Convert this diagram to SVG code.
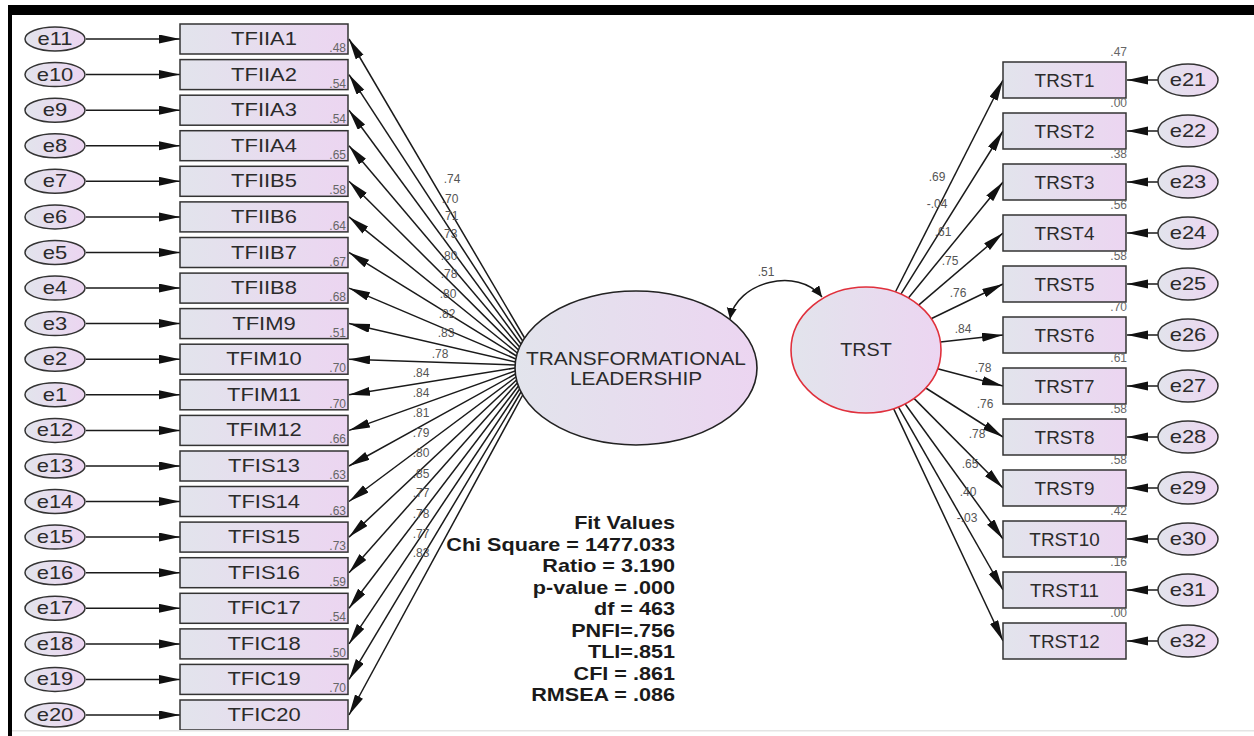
<svg xmlns="http://www.w3.org/2000/svg" width="1254" height="736" viewBox="0 0 1254 736">
<defs>
<style>
.bx{stroke:#333;stroke-width:1.5;fill:url(#g)}
.el{stroke:#333;stroke-width:1.5;fill:url(#g)}
.ln{stroke:#1a1a1a;stroke-width:1.5;fill:none}
.t{font-family:"Liberation Sans",Arial,sans-serif;font-size:18px;fill:#2b2b2b;text-anchor:middle}
.n{font-family:"Liberation Sans",Arial,sans-serif;font-size:12px;fill:#555;text-anchor:middle}
.r{font-family:"Liberation Sans",Arial,sans-serif;font-size:12px;fill:#666;text-anchor:end}
.f{font-family:"Liberation Sans",Arial,sans-serif;font-size:18px;font-weight:bold;fill:#1a1a1a;text-anchor:end}
</style>
<linearGradient id="g" x1="0" y1="0" x2="1" y2="0">
<stop offset="0" stop-color="#e2e4ec"/>
<stop offset="1" stop-color="#ecd5f1"/>
</linearGradient>
<marker id="ah" markerUnits="userSpaceOnUse" markerWidth="22" markerHeight="10" refX="21" refY="4.5" orient="auto"><path d="M0,0 L21,4.5 L0,9 Z" fill="#111"/></marker>
<marker id="as" markerUnits="userSpaceOnUse" markerWidth="12" markerHeight="11" refX="11" refY="5" orient="auto-start-reverse"><path d="M0,0 L11,5 L0,10 Z" fill="#111"/></marker>
</defs>
<rect width="1254" height="736" fill="#fff"/>

<g id="connectors">
<!-- left error arrows -->
<g class="ln" marker-end="url(#ah)">
<line x1="86" y1="39" x2="180" y2="39"/>
<line x1="86" y1="74.6" x2="180" y2="74.6"/>
<line x1="86" y1="110.2" x2="180" y2="110.2"/>
<line x1="86" y1="145.7" x2="180" y2="145.7"/>
<line x1="86" y1="181.3" x2="180" y2="181.3"/>
<line x1="86" y1="216.9" x2="180" y2="216.9"/>
<line x1="86" y1="252.5" x2="180" y2="252.5"/>
<line x1="86" y1="288.1" x2="180" y2="288.1"/>
<line x1="86" y1="323.6" x2="180" y2="323.6"/>
<line x1="86" y1="359.2" x2="180" y2="359.2"/>
<line x1="86" y1="394.8" x2="180" y2="394.8"/>
<line x1="86" y1="430.4" x2="180" y2="430.4"/>
<line x1="86" y1="466" x2="180" y2="466"/>
<line x1="86" y1="501.5" x2="180" y2="501.5"/>
<line x1="86" y1="537.1" x2="180" y2="537.1"/>
<line x1="86" y1="572.7" x2="180" y2="572.7"/>
<line x1="86" y1="608.3" x2="180" y2="608.3"/>
<line x1="86" y1="643.9" x2="180" y2="643.9"/>
<line x1="86" y1="679.4" x2="180" y2="679.4"/>
<line x1="86" y1="715" x2="180" y2="715"/>
</g>
<!-- left loadings -->
<g class="ln" marker-end="url(#ah)">
<line x1="524.6" y1="338" x2="349" y2="39"/>
<line x1="522.7" y1="341" x2="349" y2="74.6"/>
<line x1="521" y1="344" x2="349" y2="110.2"/>
<line x1="519.6" y1="347" x2="349" y2="145.7"/>
<line x1="518.4" y1="350" x2="349" y2="181.3"/>
<line x1="517.3" y1="353" x2="349" y2="216.9"/>
<line x1="516.5" y1="356" x2="349" y2="252.5"/>
<line x1="515.8" y1="359" x2="349" y2="288.1"/>
<line x1="515.4" y1="362" x2="349" y2="323.6"/>
<line x1="515.1" y1="365" x2="349" y2="359.2"/>
<line x1="515" y1="368" x2="349" y2="394.8"/>
<line x1="515.1" y1="371" x2="349" y2="430.4"/>
<line x1="515.4" y1="374" x2="349" y2="466"/>
<line x1="515.8" y1="377" x2="349" y2="501.5"/>
<line x1="516.5" y1="380" x2="349" y2="537.1"/>
<line x1="517.3" y1="383" x2="349" y2="572.7"/>
<line x1="518.4" y1="386" x2="349" y2="608.3"/>
<line x1="519.6" y1="389" x2="349" y2="643.9"/>
<line x1="521" y1="392" x2="349" y2="679.4"/>
<line x1="522.7" y1="395" x2="349" y2="715"/>
</g>
<!-- right loadings -->
<g class="ln" marker-end="url(#ah)">
<line x1="895.4" y1="292" x2="1003" y2="80"/>
<line x1="900.9" y1="294.2" x2="1003" y2="131"/>
<line x1="908.4" y1="298" x2="1003" y2="182"/>
<line x1="918.6" y1="305.1" x2="1003" y2="233"/>
<line x1="931.1" y1="318.7" x2="1003" y2="284"/>
<line x1="940.4" y1="341.9" x2="1003" y2="335"/>
<line x1="937.6" y1="368.8" x2="1003" y2="386"/>
<line x1="925.8" y1="388" x2="1003" y2="437"/>
<line x1="914" y1="398.4" x2="1003" y2="488"/>
<line x1="905" y1="403.8" x2="1003" y2="539"/>
<line x1="898.4" y1="406.8" x2="1003" y2="590"/>
<line x1="893.6" y1="408.6" x2="1003" y2="641"/>
</g>
<!-- right error arrows -->
<g class="ln" marker-end="url(#ah)">
<line x1="1158" y1="80" x2="1127" y2="80"/>
<line x1="1158" y1="131" x2="1127" y2="131"/>
<line x1="1158" y1="182" x2="1127" y2="182"/>
<line x1="1158" y1="233" x2="1127" y2="233"/>
<line x1="1158" y1="284" x2="1127" y2="284"/>
<line x1="1158" y1="335" x2="1127" y2="335"/>
<line x1="1158" y1="386" x2="1127" y2="386"/>
<line x1="1158" y1="437" x2="1127" y2="437"/>
<line x1="1158" y1="488" x2="1127" y2="488"/>
<line x1="1158" y1="539" x2="1127" y2="539"/>
<line x1="1158" y1="590" x2="1127" y2="590"/>
<line x1="1158" y1="641" x2="1127" y2="641"/>
</g>
<!-- covariance -->
<path class="ln" d="M730,319 C736,282 798,266 822,297" marker-start="url(#as)" marker-end="url(#as)"/>
<text class="n" x="766" y="276">.51</text>
<!-- left loading labels -->
<text class="n" x="452" y="183">.74</text>
<text class="n" x="450" y="203">.70</text>
<text class="n" x="450" y="220">.71</text>
<text class="n" x="449" y="238">.73</text>
<text class="n" x="449" y="260">.80</text>
<text class="n" x="449" y="278">.78</text>
<text class="n" x="448" y="298">.80</text>
<text class="n" x="447" y="318">.82</text>
<text class="n" x="446" y="337">.83</text>
<text class="n" x="440" y="358">.78</text>
<text class="n" x="421" y="377">.84</text>
<text class="n" x="421" y="397">.84</text>
<text class="n" x="421" y="417">.81</text>
<text class="n" x="421" y="437">.79</text>
<text class="n" x="421" y="457">.80</text>
<text class="n" x="421" y="478">.85</text>
<text class="n" x="421" y="497">.77</text>
<text class="n" x="421" y="518">.78</text>
<text class="n" x="421" y="538">.77</text>
<text class="n" x="421" y="557">.83</text>
<!-- right loading labels -->
<text class="n" x="937" y="181">.69</text>
<text class="n" x="937" y="208">-.04</text>
<text class="n" x="943" y="236">.61</text>
<text class="n" x="950" y="265">.75</text>
<text class="n" x="958" y="297">.76</text>
<text class="n" x="963" y="333">.84</text>
<text class="n" x="983" y="372">.78</text>
<text class="n" x="985" y="408">.76</text>
<text class="n" x="977" y="438">.78</text>
<text class="n" x="970" y="468">.65</text>
<text class="n" x="968" y="496">.40</text>
<text class="n" x="967" y="522">-.03</text>
</g>

<!-- latent variables -->
<g id="TL">
<ellipse cx="636" cy="368" rx="121" ry="77" stroke="#222" stroke-width="1.6" fill="url(#g)"/>
<text class="t" transform="translate(636,365) scale(1.16,1)">TRANSFORMATIONAL</text>
<text class="t" transform="translate(636,385) scale(1.16,1)">LEADERSHIP</text>
</g>
<g id="TRST">
<ellipse cx="866" cy="350" rx="75" ry="63" stroke="#e0303c" stroke-width="1.6" fill="url(#g)"/>
<text class="t" transform="translate(866,356) scale(1.1,1)">TRST</text>
</g>

<!-- left observed -->
<g id="TFIIA1"><rect class="bx" x="180" y="24" width="168" height="30"/><text class="t" transform="translate(264,45) scale(1.22,1)">TFIIA1</text><text class="r" x="346" y="52">.48</text></g>
<g id="TFIIA2"><rect class="bx" x="180" y="59.6" width="168" height="30"/><text class="t" transform="translate(264,80.6) scale(1.22,1)">TFIIA2</text><text class="r" x="346" y="87.6">.54</text></g>
<g id="TFIIA3"><rect class="bx" x="180" y="95.2" width="168" height="30"/><text class="t" transform="translate(264,116.2) scale(1.22,1)">TFIIA3</text><text class="r" x="346" y="123.2">.54</text></g>
<g id="TFIIA4"><rect class="bx" x="180" y="130.7" width="168" height="30"/><text class="t" transform="translate(264,151.7) scale(1.22,1)">TFIIA4</text><text class="r" x="346" y="158.7">.65</text></g>
<g id="TFIIB5"><rect class="bx" x="180" y="166.3" width="168" height="30"/><text class="t" transform="translate(264,187.3) scale(1.22,1)">TFIIB5</text><text class="r" x="346" y="194.3">.58</text></g>
<g id="TFIIB6"><rect class="bx" x="180" y="201.9" width="168" height="30"/><text class="t" transform="translate(264,222.9) scale(1.22,1)">TFIIB6</text><text class="r" x="346" y="229.9">.64</text></g>
<g id="TFIIB7"><rect class="bx" x="180" y="237.5" width="168" height="30"/><text class="t" transform="translate(264,258.5) scale(1.22,1)">TFIIB7</text><text class="r" x="346" y="265.5">.67</text></g>
<g id="TFIIB8"><rect class="bx" x="180" y="273.1" width="168" height="30"/><text class="t" transform="translate(264,294.1) scale(1.22,1)">TFIIB8</text><text class="r" x="346" y="301.1">.68</text></g>
<g id="TFIM9"><rect class="bx" x="180" y="308.6" width="168" height="30"/><text class="t" transform="translate(264,329.6) scale(1.22,1)">TFIM9</text><text class="r" x="346" y="336.6">.51</text></g>
<g id="TFIM10"><rect class="bx" x="180" y="344.2" width="168" height="30"/><text class="t" transform="translate(264,365.2) scale(1.22,1)">TFIM10</text><text class="r" x="346" y="372.2">.70</text></g>
<g id="TFIM11"><rect class="bx" x="180" y="379.8" width="168" height="30"/><text class="t" transform="translate(264,400.8) scale(1.22,1)">TFIM11</text><text class="r" x="346" y="407.8">.70</text></g>
<g id="TFIM12"><rect class="bx" x="180" y="415.4" width="168" height="30"/><text class="t" transform="translate(264,436.4) scale(1.22,1)">TFIM12</text><text class="r" x="346" y="443.4">.66</text></g>
<g id="TFIS13"><rect class="bx" x="180" y="451" width="168" height="30"/><text class="t" transform="translate(264,472) scale(1.22,1)">TFIS13</text><text class="r" x="346" y="479">.63</text></g>
<g id="TFIS14"><rect class="bx" x="180" y="486.5" width="168" height="30"/><text class="t" transform="translate(264,507.5) scale(1.22,1)">TFIS14</text><text class="r" x="346" y="514.5">.63</text></g>
<g id="TFIS15"><rect class="bx" x="180" y="522.1" width="168" height="30"/><text class="t" transform="translate(264,543.1) scale(1.22,1)">TFIS15</text><text class="r" x="346" y="550.1">.73</text></g>
<g id="TFIS16"><rect class="bx" x="180" y="557.7" width="168" height="30"/><text class="t" transform="translate(264,578.7) scale(1.22,1)">TFIS16</text><text class="r" x="346" y="585.7">.59</text></g>
<g id="TFIC17"><rect class="bx" x="180" y="593.3" width="168" height="30"/><text class="t" transform="translate(264,614.3) scale(1.22,1)">TFIC17</text><text class="r" x="346" y="621.3">.54</text></g>
<g id="TFIC18"><rect class="bx" x="180" y="628.9" width="168" height="30"/><text class="t" transform="translate(264,649.9) scale(1.22,1)">TFIC18</text><text class="r" x="346" y="656.9">.50</text></g>
<g id="TFIC19"><rect class="bx" x="180" y="664.4" width="168" height="30"/><text class="t" transform="translate(264,685.4) scale(1.22,1)">TFIC19</text><text class="r" x="346" y="692.4">.70</text></g>
<g id="TFIC20"><rect class="bx" x="180" y="700" width="168" height="30"/><text class="t" transform="translate(264,721) scale(1.22,1)">TFIC20</text></g>

<!-- left errors -->
<g id="e11"><ellipse class="el" cx="55" cy="39" rx="30" ry="12"/><text class="t" transform="translate(55,45) scale(1.22,1)">e11</text></g>
<g id="e10"><ellipse class="el" cx="55" cy="74.6" rx="30" ry="12"/><text class="t" transform="translate(55,80.6) scale(1.22,1)">e10</text></g>
<g id="e9"><ellipse class="el" cx="55" cy="110.2" rx="30" ry="12"/><text class="t" transform="translate(55,116.2) scale(1.22,1)">e9</text></g>
<g id="e8"><ellipse class="el" cx="55" cy="145.7" rx="30" ry="12"/><text class="t" transform="translate(55,151.7) scale(1.22,1)">e8</text></g>
<g id="e7"><ellipse class="el" cx="55" cy="181.3" rx="30" ry="12"/><text class="t" transform="translate(55,187.3) scale(1.22,1)">e7</text></g>
<g id="e6"><ellipse class="el" cx="55" cy="216.9" rx="30" ry="12"/><text class="t" transform="translate(55,222.9) scale(1.22,1)">e6</text></g>
<g id="e5"><ellipse class="el" cx="55" cy="252.5" rx="30" ry="12"/><text class="t" transform="translate(55,258.5) scale(1.22,1)">e5</text></g>
<g id="e4"><ellipse class="el" cx="55" cy="288.1" rx="30" ry="12"/><text class="t" transform="translate(55,294.1) scale(1.22,1)">e4</text></g>
<g id="e3"><ellipse class="el" cx="55" cy="323.6" rx="30" ry="12"/><text class="t" transform="translate(55,329.6) scale(1.22,1)">e3</text></g>
<g id="e2"><ellipse class="el" cx="55" cy="359.2" rx="30" ry="12"/><text class="t" transform="translate(55,365.2) scale(1.22,1)">e2</text></g>
<g id="e1"><ellipse class="el" cx="55" cy="394.8" rx="30" ry="12"/><text class="t" transform="translate(55,400.8) scale(1.22,1)">e1</text></g>
<g id="e12"><ellipse class="el" cx="55" cy="430.4" rx="30" ry="12"/><text class="t" transform="translate(55,436.4) scale(1.22,1)">e12</text></g>
<g id="e13"><ellipse class="el" cx="55" cy="466" rx="30" ry="12"/><text class="t" transform="translate(55,472) scale(1.22,1)">e13</text></g>
<g id="e14"><ellipse class="el" cx="55" cy="501.5" rx="30" ry="12"/><text class="t" transform="translate(55,507.5) scale(1.22,1)">e14</text></g>
<g id="e15"><ellipse class="el" cx="55" cy="537.1" rx="30" ry="12"/><text class="t" transform="translate(55,543.1) scale(1.22,1)">e15</text></g>
<g id="e16"><ellipse class="el" cx="55" cy="572.7" rx="30" ry="12"/><text class="t" transform="translate(55,578.7) scale(1.22,1)">e16</text></g>
<g id="e17"><ellipse class="el" cx="55" cy="608.3" rx="30" ry="12"/><text class="t" transform="translate(55,614.3) scale(1.22,1)">e17</text></g>
<g id="e18"><ellipse class="el" cx="55" cy="643.9" rx="30" ry="12"/><text class="t" transform="translate(55,649.9) scale(1.22,1)">e18</text></g>
<g id="e19"><ellipse class="el" cx="55" cy="679.4" rx="30" ry="12"/><text class="t" transform="translate(55,685.4) scale(1.22,1)">e19</text></g>
<g id="e20"><ellipse class="el" cx="55" cy="715" rx="30" ry="12"/><text class="t" transform="translate(55,721) scale(1.22,1)">e20</text></g>

<!-- right observed -->
<g id="TRST1"><rect class="bx" x="1003" y="62" width="123" height="36"/><text class="t" transform="translate(1064.5,87) scale(1.05,1)">TRST1</text><text class="r" x="1127" y="56">.47</text></g>
<g id="TRST2"><rect class="bx" x="1003" y="113" width="123" height="36"/><text class="t" transform="translate(1064.5,138) scale(1.05,1)">TRST2</text><text class="r" x="1127" y="107">.00</text></g>
<g id="TRST3"><rect class="bx" x="1003" y="164" width="123" height="36"/><text class="t" transform="translate(1064.5,189) scale(1.05,1)">TRST3</text><text class="r" x="1127" y="158">.38</text></g>
<g id="TRST4"><rect class="bx" x="1003" y="215" width="123" height="36"/><text class="t" transform="translate(1064.5,240) scale(1.05,1)">TRST4</text><text class="r" x="1127" y="209">.56</text></g>
<g id="TRST5"><rect class="bx" x="1003" y="266" width="123" height="36"/><text class="t" transform="translate(1064.5,291) scale(1.05,1)">TRST5</text><text class="r" x="1127" y="260">.58</text></g>
<g id="TRST6"><rect class="bx" x="1003" y="317" width="123" height="36"/><text class="t" transform="translate(1064.5,342) scale(1.05,1)">TRST6</text><text class="r" x="1127" y="311">.70</text></g>
<g id="TRST7"><rect class="bx" x="1003" y="368" width="123" height="36"/><text class="t" transform="translate(1064.5,393) scale(1.05,1)">TRST7</text><text class="r" x="1127" y="362">.61</text></g>
<g id="TRST8"><rect class="bx" x="1003" y="419" width="123" height="36"/><text class="t" transform="translate(1064.5,444) scale(1.05,1)">TRST8</text><text class="r" x="1127" y="413">.58</text></g>
<g id="TRST9"><rect class="bx" x="1003" y="470" width="123" height="36"/><text class="t" transform="translate(1064.5,495) scale(1.05,1)">TRST9</text><text class="r" x="1127" y="464">.58</text></g>
<g id="TRST10"><rect class="bx" x="1003" y="521" width="123" height="36"/><text class="t" transform="translate(1064.5,546) scale(1.05,1)">TRST10</text><text class="r" x="1127" y="515">.42</text></g>
<g id="TRST11"><rect class="bx" x="1003" y="572" width="123" height="36"/><text class="t" transform="translate(1064.5,597) scale(1.05,1)">TRST11</text><text class="r" x="1127" y="566">.16</text></g>
<g id="TRST12"><rect class="bx" x="1003" y="623" width="123" height="36"/><text class="t" transform="translate(1064.5,648) scale(1.05,1)">TRST12</text><text class="r" x="1127" y="617">.00</text></g>

<!-- right errors -->
<g id="e21"><ellipse class="el" cx="1188" cy="80" rx="30" ry="16"/><text class="t" transform="translate(1188,86) scale(1.22,1)">e21</text></g>
<g id="e22"><ellipse class="el" cx="1188" cy="131" rx="30" ry="16"/><text class="t" transform="translate(1188,137) scale(1.22,1)">e22</text></g>
<g id="e23"><ellipse class="el" cx="1188" cy="182" rx="30" ry="16"/><text class="t" transform="translate(1188,188) scale(1.22,1)">e23</text></g>
<g id="e24"><ellipse class="el" cx="1188" cy="233" rx="30" ry="16"/><text class="t" transform="translate(1188,239) scale(1.22,1)">e24</text></g>
<g id="e25"><ellipse class="el" cx="1188" cy="284" rx="30" ry="16"/><text class="t" transform="translate(1188,290) scale(1.22,1)">e25</text></g>
<g id="e26"><ellipse class="el" cx="1188" cy="335" rx="30" ry="16"/><text class="t" transform="translate(1188,341) scale(1.22,1)">e26</text></g>
<g id="e27"><ellipse class="el" cx="1188" cy="386" rx="30" ry="16"/><text class="t" transform="translate(1188,392) scale(1.22,1)">e27</text></g>
<g id="e28"><ellipse class="el" cx="1188" cy="437" rx="30" ry="16"/><text class="t" transform="translate(1188,443) scale(1.22,1)">e28</text></g>
<g id="e29"><ellipse class="el" cx="1188" cy="488" rx="30" ry="16"/><text class="t" transform="translate(1188,494) scale(1.22,1)">e29</text></g>
<g id="e30"><ellipse class="el" cx="1188" cy="539" rx="30" ry="16"/><text class="t" transform="translate(1188,545) scale(1.22,1)">e30</text></g>
<g id="e31"><ellipse class="el" cx="1188" cy="590" rx="30" ry="16"/><text class="t" transform="translate(1188,596) scale(1.22,1)">e31</text></g>
<g id="e32"><ellipse class="el" cx="1188" cy="641" rx="30" ry="16"/><text class="t" transform="translate(1188,647) scale(1.22,1)">e32</text></g>

<!-- fit values -->
<g id="fit">
<text class="f" transform="translate(675,529) scale(1.2,1)">Fit Values</text>
<text class="f" transform="translate(675,550.5) scale(1.2,1)">Chi Square = 1477.033</text>
<text class="f" transform="translate(675,572) scale(1.2,1)">Ratio = 3.190</text>
<text class="f" transform="translate(675,593.5) scale(1.2,1)">p-value = .000</text>
<text class="f" transform="translate(675,615) scale(1.2,1)">df = 463</text>
<text class="f" transform="translate(675,636.5) scale(1.2,1)">PNFI=.756</text>
<text class="f" transform="translate(675,658) scale(1.2,1)">TLI=.851</text>
<text class="f" transform="translate(675,679.5) scale(1.2,1)">CFI = .861</text>
<text class="f" transform="translate(675,701) scale(1.2,1)">RMSEA = .086</text>
</g>

<!-- frame -->
<rect x="8" y="5" width="1246" height="10" fill="#000"/>
<rect x="8" y="5" width="4" height="731" fill="#000"/>
<rect x="12" y="730" width="1242" height="1.5" fill="#e4e4e4"/>
</svg>
